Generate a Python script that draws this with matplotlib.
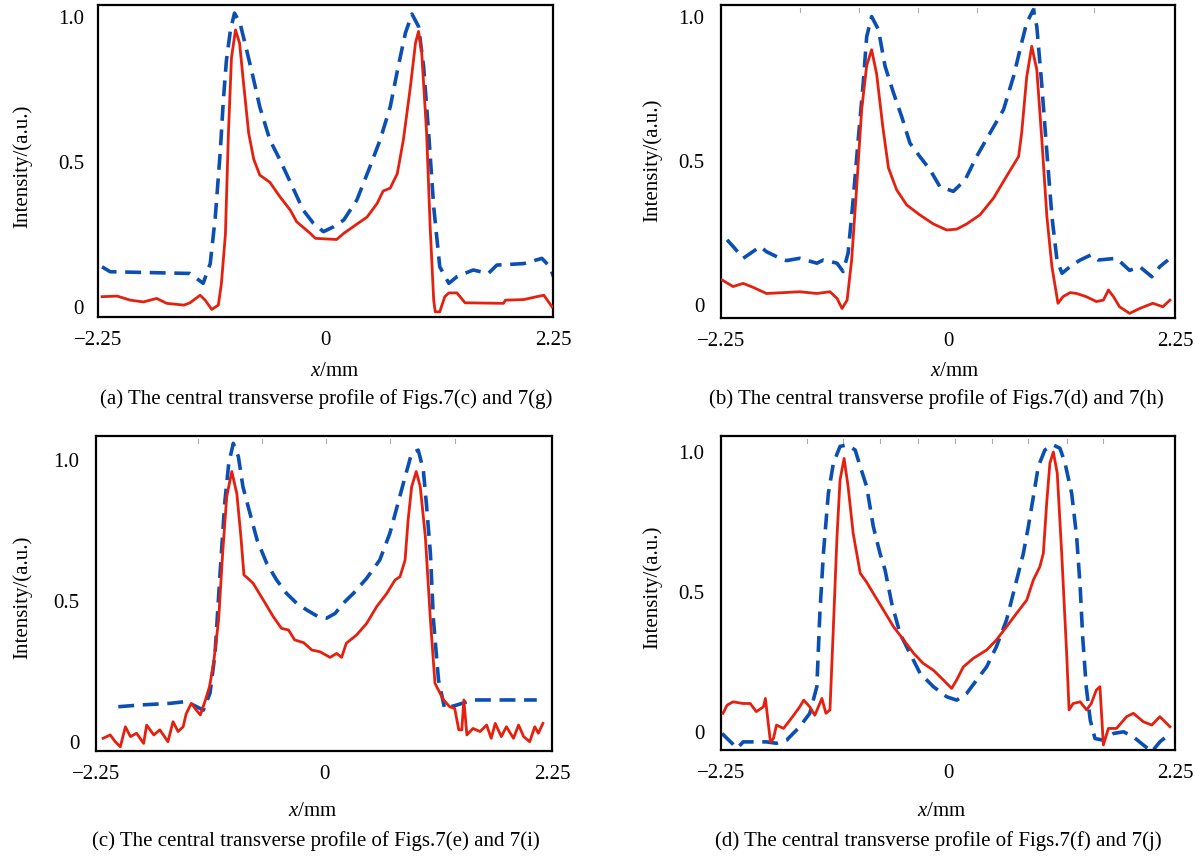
import matplotlib
matplotlib.use("Agg")
import matplotlib.pyplot as plt
import numpy as np

plt.rcParams['font.family'] = ['Liberation Serif', 'DejaVu Serif']
plt.rcParams['mathtext.fontset'] = 'custom'
plt.rcParams['mathtext.rm'] = 'Liberation Serif'
plt.rcParams['mathtext.it'] = 'Liberation Serif:italic'

# ---------------- data (x in mm, intensity in a.u.) ----------------
a_red_x = [-2.21, -2.06, -1.93, -1.80, -1.67, -1.57, -1.40, -1.34, -1.24, -1.19, -1.125, -1.06, -1.03, -0.99, -0.96,
           -0.93, -0.89, -0.85, -0.81, -0.76, -0.71, -0.65, -0.55, -0.45, -0.35, -0.285, -0.15, -0.10, 0.11, 0.18,
           0.31, 0.41, 0.51, 0.57, 0.64, 0.71, 0.77, 0.84, 0.89, 0.92, 0.95, 1.00, 1.035, 1.07, 1.085, 1.13, 1.18,
           1.22, 1.30, 1.38, 1.76, 1.78, 1.96, 2.09, 2.16, 2.24]
a_red_y = [0.036, 0.038, 0.024, 0.018, 0.03, 0.013, 0.007, 0.015, 0.041, 0.024, -0.008, 0.007, 0.08, 0.25, 0.60,
           0.86, 0.955, 0.91, 0.77, 0.60, 0.51, 0.455, 0.43, 0.38, 0.335, 0.294, 0.254, 0.237, 0.233, 0.254,
           0.286, 0.31, 0.357, 0.40, 0.41, 0.46, 0.576, 0.76, 0.91, 0.95, 0.886, 0.60, 0.277, 0.024, -0.016, -0.016, 0.036,
           0.049, 0.049, 0.015, 0.013, 0.024, 0.026, 0.036, 0.041, 0.001]
a_blue_x = [-2.21, -2.13, -1.34, -1.21, -1.14, -1.09, -1.04, -1.01, -0.98, -0.94, -0.90, -0.845, -0.78, -0.71, -0.65,
            -0.55, -0.45, -0.35, -0.22, -0.12, -0.02, 0.08, 0.18, 0.31, 0.44, 0.54, 0.64, 0.72, 0.79, 0.855, 0.92,
            0.97, 1.02, 1.07, 1.13, 1.22, 1.30, 1.46, 1.61, 1.695, 1.96, 2.14, 2.22, 2.255]
a_blue_y = [0.139, 0.122, 0.116, 0.082, 0.15, 0.31, 0.54, 0.714, 0.85, 0.955, 1.013, 0.978, 0.886, 0.783, 0.69,
            0.576, 0.507, 0.432, 0.334, 0.289, 0.26, 0.277, 0.30, 0.369, 0.484, 0.576, 0.69, 0.83, 0.944, 1.01, 0.967,
            0.83, 0.60, 0.346, 0.139, 0.082, 0.105, 0.128, 0.116, 0.145, 0.15, 0.168, 0.139, 0.105]

b_red_x = [-2.24, -2.13, -2.03, -1.93, -1.80, -1.63, -1.47, -1.30, -1.17, -1.10, -1.05, -1.00, -0.955, -0.905, -0.856,
           -0.806, -0.757, -0.707, -0.647, -0.59, -0.51, -0.41, -0.28, -0.145, -0.013, 0.086, 0.185, 0.317, 0.45,
           0.58, 0.70, 0.73, 0.78, 0.83, 0.88, 0.93, 0.98, 1.03, 1.09, 1.14, 1.21, 1.275, 1.37, 1.47, 1.54, 1.59,
           1.64, 1.70, 1.80, 1.90, 2.03, 2.13, 2.20]
b_red_y = [0.087, 0.064, 0.075, 0.061, 0.04, 0.043, 0.046, 0.04, 0.046, 0.023, -0.012, 0.017, 0.156, 0.41, 0.677,
           0.83, 0.885, 0.80, 0.62, 0.475, 0.40, 0.347, 0.3125, 0.281, 0.26, 0.263, 0.281, 0.3125, 0.37,
           0.446, 0.515, 0.596, 0.79, 0.897, 0.816, 0.573, 0.307, 0.133, 0.006, 0.029, 0.043, 0.04, 0.029, 0.012, 0.017, 0.052,
           0.029, -0.006, -0.029, -0.012, 0.006, -0.006, 0.017]
b_blue_x = [-2.19, -2.13, -2.03, -1.86, -1.80, -1.665, -1.60, -1.47, -1.30, -1.235, -1.10, -1.04, -0.99, -0.94, -0.89,
            -0.84, -0.806, -0.757, -0.69, -0.624, -0.54, -0.46, -0.377, -0.28, -0.178, -0.08, 0.003, 0.053, 0.17,
            0.284, 0.416, 0.55, 0.65, 0.73, 0.78, 0.846, 0.88, 0.928, 0.978, 1.03, 1.08, 1.13, 1.21, 1.31, 1.42,
            1.49, 1.67, 1.80, 1.90, 2.02, 2.10, 2.18]
b_blue_y = [0.226, 0.203, 0.162, 0.203, 0.185, 0.162, 0.154, 0.162, 0.145, 0.156, 0.145, 0.116, 0.18, 0.365, 0.573,
            0.77, 0.93, 1.0, 0.955, 0.828, 0.735, 0.654, 0.561, 0.515, 0.469, 0.41, 0.40, 0.394, 0.434,
            0.515, 0.596, 0.677, 0.793, 0.909, 0.978, 1.024, 0.966, 0.77, 0.538, 0.307, 0.156, 0.11, 0.133, 0.156, 0.174,
            0.156, 0.162, 0.12, 0.133, 0.098, 0.133, 0.156]

c_red_x = [-2.18, -2.11, -2.06, -2.01, -1.96, -1.91, -1.85, -1.78, -1.75, -1.68, -1.62, -1.54, -1.49, -1.44, -1.39,
           -1.36, -1.31, -1.26, -1.22, -1.17, -1.13, -1.09, -1.04, -1.0, -0.96, -0.91, -0.86, -0.82, -0.79, -0.75,
           -0.70, -0.60, -0.50, -0.42, -0.35, -0.29, -0.20, -0.12, -0.04, 0.06, 0.125, 0.174, 0.22, 0.32, 0.42,
           0.52, 0.62, 0.70, 0.75, 0.80, 0.83, 0.865, 0.91, 0.95, 1.00, 1.05, 1.095, 1.18, 1.24, 1.29, 1.33, 1.36,
           1.38, 1.41, 1.47, 1.54, 1.605, 1.65, 1.69, 1.75, 1.80, 1.87, 1.92, 1.97, 2.03, 2.08, 2.115, 2.16]
c_red_y = [0.013, 0.025, 0.001, -0.017, 0.054, 0.019, 0.031, -0.005, 0.06, 0.025, 0.043, 0.001, 0.072, 0.037, 0.054,
           0.10, 0.137, 0.113, 0.096, 0.149, 0.196, 0.279, 0.433, 0.67, 0.87, 0.959, 0.88, 0.728, 0.592, 0.58,
           0.563, 0.504, 0.444, 0.403, 0.397, 0.362, 0.352, 0.326, 0.32, 0.30, 0.314, 0.30, 0.35, 0.379, 0.42,
           0.48, 0.527, 0.574, 0.586, 0.645, 0.787, 0.905, 0.959, 0.905, 0.728, 0.433, 0.208, 0.149, 0.125, 0.119, 0.043, 0.043,
           0.149, 0.025, 0.048, 0.037, 0.06, 0.013, 0.066, 0.019, 0.054, 0.013, 0.06, 0.019, 0.001, 0.054, 0.031, 0.066]
c_blue_x = [-2.03, -1.82, -1.52, -1.37, -1.29, -1.19, -1.125, -1.075, -1.03, -0.98, -0.94, -0.895, -0.845, -0.80,
            -0.73, -0.66, -0.566, -0.467, -0.37, -0.27, -0.17, -0.056, 0.026, 0.11, 0.19, 0.29, 0.42, 0.55, 0.65,
            0.73, 0.80, 0.865, 0.93, 0.98, 1.01, 1.05, 1.08, 1.13, 1.19, 1.31, 1.47, 1.80, 2.10]
c_blue_y = [0.125, 0.131, 0.137, 0.143, 0.131, 0.113, 0.173, 0.314, 0.574, 0.846, 0.988, 1.059, 1.012, 0.905,
            0.81, 0.716, 0.634, 0.574, 0.527, 0.492, 0.468, 0.444, 0.439, 0.456, 0.492, 0.527, 0.58, 0.645, 0.74,
            0.846, 0.94, 1.024, 1.035, 0.965, 0.846, 0.669, 0.433, 0.22, 0.119, 0.131, 0.149, 0.149, 0.149]

d_red_x = [-2.23, -2.19, -2.13, -2.03, -1.96, -1.90, -1.83, -1.81, -1.76, -1.73, -1.70, -1.63, -1.53, -1.47, -1.43,
           -1.37, -1.32, -1.25, -1.21, -1.17, -1.14, -1.10, -1.07, -1.03, -0.99, -0.94, -0.87, -0.81, -0.74, -0.64,
           -0.54, -0.44, -0.34, -0.245, -0.145, -0.046, 0.036, 0.086, 0.152, 0.25, 0.383, 0.48, 0.58, 0.68, 0.78,
           0.846, 0.91, 0.945, 0.978, 1.01, 1.044, 1.083, 1.127, 1.176, 1.20, 1.24, 1.31, 1.374, 1.42, 1.47, 1.506,
           1.54, 1.59, 1.67, 1.77, 1.837, 1.936, 2.02, 2.10, 2.15, 2.20]
d_red_y = [0.067, 0.096, 0.108, 0.102, 0.102, 0.073, 0.09, 0.12, -0.035, -0.023, 0.025, 0.013, 0.06, 0.09, 0.114,
           0.09, 0.06, 0.12, 0.067, 0.079, 0.34, 0.70, 0.90, 0.977, 0.876, 0.71, 0.567, 0.537, 0.495, 0.436,
           0.376, 0.329, 0.281, 0.245, 0.221, 0.186, 0.156, 0.186, 0.233, 0.263, 0.293, 0.329, 0.376, 0.424, 0.471,
           0.543, 0.59, 0.638, 0.817, 0.96, 1.0, 0.924, 0.638, 0.281, 0.079, 0.102, 0.108, 0.079, 0.102, 0.15, 0.162,
           -0.046, 0.013, 0.013, 0.055, 0.067, 0.037, 0.025, 0.055, 0.037, 0.019]
d_blue_x = [-2.24, -2.09, -2.03, -1.80, -1.70, -1.60, -1.47, -1.37, -1.30, -1.27, -1.235, -1.186, -1.136, -1.07,
            -1.00, -0.92, -0.87, -0.806, -0.74, -0.674, -0.624, -0.558, -0.476, -0.377, -0.277, -0.145, -0.013,
            0.086, 0.185, 0.284, 0.383, 0.48, 0.58, 0.664, 0.747, 0.796, 0.846, 0.895, 0.96, 1.044, 1.11, 1.16,
            1.226, 1.275, 1.31, 1.335, 1.37, 1.41, 1.457, 1.54, 1.64, 1.74, 1.837, 1.936, 2.02, 2.10, 2.18]
d_blue_y = [-0.005, -0.058, -0.035, -0.035, -0.04, -0.029, 0.019, 0.067, 0.162, 0.424, 0.638, 0.852, 0.96, 1.02,
            1.025, 1.007, 0.948, 0.876, 0.733, 0.638, 0.579, 0.46, 0.352, 0.281, 0.21, 0.162, 0.126,
            0.114, 0.138, 0.186, 0.233, 0.305, 0.40, 0.519, 0.638, 0.733, 0.84, 0.948, 1.007, 1.025, 1.013, 0.96,
            0.852, 0.698, 0.519, 0.34, 0.162, 0.043, -0.023, -0.029, -0.005, 0.001, -0.017, -0.046, -0.07, -0.035, -0.011]

x_ticks = [-2.25, 0, 2.25]
x_tick_labels = ['\u22122.25', '0', '2.25']
y_ticks = [0, 0.5, 1.0]
y_tick_labels = ['0', '0.5', '1.0']

captions = ['(a) The central transverse profile of Figs.7(c) and 7(g)',
            '(b) The central transverse profile of Figs.7(d) and 7(h)',
            '(c) The central transverse profile of Figs.7(e) and 7(i)',
            '(d) The central transverse profile of Figs.7(f) and 7(j)']
top_marks = [[], [-1.47, -0.88, -0.30, 0.29, 0.86, 1.45],
             [-1.24, -0.61, 0.02, 0.65, 1.29],
             [-1.40, -1.04, -0.67, -0.30, 0.07, 0.44, 0.79, 1.18, 1.54]]

panels = [(a_red_x, a_red_y, a_blue_x, a_blue_y),
          (b_red_x, b_red_y, b_blue_x, b_blue_y),
          (c_red_x, c_red_y, c_blue_x, c_blue_y),
          (d_red_x, d_red_y, d_blue_x, d_blue_y)]

W, H = 1200, 859
fig = plt.figure(figsize=(W / 100, H / 100), dpi=100)

# layout in pixels: left, top, right, bottom of box
boxes = [(98, 5, 553, 317), (721, 5, 1175, 318), (96, 436, 552, 751), (721, 436, 1175, 750)]
ylims = [(-0.034, 1.041), (-0.045, 1.04), (-0.032, 1.085), (-0.064, 1.057)]
ypads = [10, 12, 12, 12]
xlabel_pos = [(335, 371), (955, 371), (313, 812), (942, 812)]
caption_pos = [(326, 399), (936, 399), (316, 841), (938, 841)]
ylabel_pos = [(22, 166), (652, 160), (22, 597), (652, 587)]

RED = '#e5200e'
BLUE = '#0b4fb3'

for i, (rx, ry, bx, by) in enumerate(panels):
    l, t, r, b = boxes[i]
    ax = fig.add_axes([l / W, 1 - b / H, (r - l) / W, (b - t) / H])
    ax.plot(bx, by, color=BLUE, lw=2.6, linestyle=(0, (4.4, 2.4)), zorder=2)
    ax.plot(rx, ry, color=RED, lw=2.0, zorder=3)
    ax.set_xlim(-2.25, 2.25)
    ax.set_ylim(*ylims[i])
    ax.set_xticks(x_ticks)
    ax.set_xticklabels(x_tick_labels)
    ax.set_yticks(y_ticks)
    ax.set_yticklabels(y_tick_labels)
    ax.tick_params(axis='x', length=0, pad=10, labelsize=15)
    ax.tick_params(axis='y', length=0, pad=ypads[i], labelsize=15)
    for s in ax.spines.values():
        s.set_linewidth(1.6)
        s.set_color('black')
    for xm in top_marks[i]:
        ax.plot([xm, xm], [ylims[i][1] - 0.025, ylims[i][1] - 0.012], color='#aaaaaa', lw=0.8, zorder=1)
    fig.text(xlabel_pos[i][0] / W, 1 - xlabel_pos[i][1] / H, r'$x$/mm', ha='center', va='center', fontsize=15)
    fig.text(caption_pos[i][0] / W, 1 - caption_pos[i][1] / H, captions[i], ha='center', va='center', fontsize=15)
    fig.text(ylabel_pos[i][0] / W, 1 - ylabel_pos[i][1] / H, 'Intensity/(a.u.)', ha='center', va='center',
             rotation=90, fontsize=15)

fig.savefig('out.png', dpi=100)
